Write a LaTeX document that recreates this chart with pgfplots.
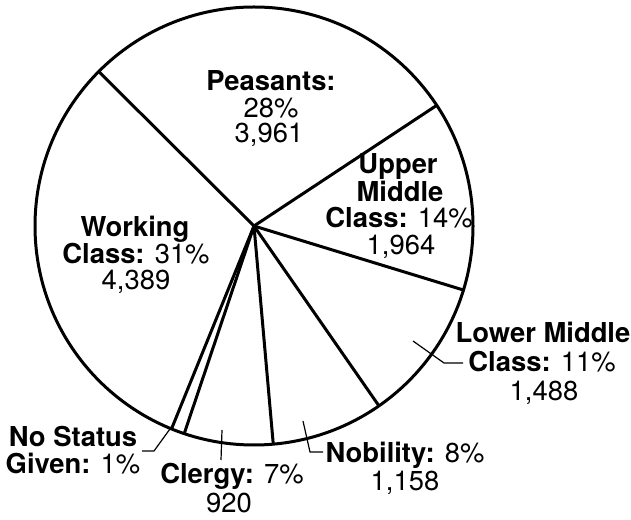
\documentclass[border=0pt]{standalone}
\usepackage{pgfplots}
\usepackage{pgfplotstable}
\pgfplotsset{compat=1.18}
\usepackage{fontspec}
\setmainfont{TeX Gyre Heros}

% counts per class, counter-clockwise from the Upper/Lower Middle boundary
\pgfplotstableread{
class count
UpperMiddle 1964
Peasants 3961
Working 4389
NoStatus 138
Clergy 920
Nobility 1158
LowerMiddle 1488
}\piedata
\pgfplotstablecreatecol[create col/expr accum={\pgfmathaccuma+\thisrow{count}}{0}]{cum}\piedata
\pgfplotstablegetelem{6}{cum}\of\piedata
\edef\pietotal{\pgfplotsretval}
\def\pstart{-17}
\def\prad{219}

\newcommand\lbl[3]{\node[anchor=base, inner sep=0pt, font=\fontsize{13.7}{13}\selectfont] at (axis cs:#1,-#2) {#3};}

\begin{document}
\begin{tikzpicture}
\begin{axis}[
  scale only axis, width=315.5pt, height=259.5pt,
  xmin=0, xmax=631, ymin=-519, ymax=0,
  hide axis, clip=false,
]
% slice boundaries
\addplot[black, line width=1.5pt,
  quiver={u={\prad*cos(\pstart+360*\thisrow{cum}/\pietotal)},
          v={\prad*sin(\pstart+360*\thisrow{cum}/\pietotal)}}]
  table[x expr=254, y expr=-226] {\piedata};
\draw[black, line width=1.5pt] (axis cs:254,-226) circle[radius=\prad];

% leader lines
\addplot[black, line width=0.6pt] coordinates {(413,-341) (444,-363) (463,-363)};
\addplot[black, line width=0.6pt] coordinates {(303,-421) (310,-452) (323,-452)};
\addplot[black, line width=0.6pt] coordinates {(222,-430) (221,-460)};
\addplot[black, line width=0.6pt] coordinates {(175,-422) (154,-451) (142,-451)};

% labels
\lbl{271}{91}{\textbf{Peasants:}}
\lbl{271}{118}{28\%}
\lbl{269}{143}{3,961}

\lbl{135}{237}{\textbf{Working}}
\lbl{136}{264}{\textbf{Class:} 31\%}
\lbl{136}{290}{4,389}

\lbl{398}{174}{\textbf{Upper}}
\lbl{400}{202}{\textbf{Middle}}
\lbl{399}{228}{\textbf{Class:} 14\%}
\lbl{401}{255}{1,964}

\lbl{543}{343}{\textbf{Lower Middle}}
\lbl{542}{372}{\textbf{Class:} 11\%}
\lbl{544}{400}{1,488}

\lbl{405}{463}{\textbf{Nobility:} 8\%}
\lbl{405}{490}{1,158}

\lbl{232}{483}{\textbf{Clergy:} 7\%}
\lbl{229}{512}{920}

\lbl{73}{447}{\textbf{No Status}}
\lbl{73}{473}{\textbf{Given:} 1\%}
\end{axis}
\pgfresetboundingbox
\path[use as bounding box] (current axis.south west) rectangle (current axis.north east);
\end{tikzpicture}
\end{document}
